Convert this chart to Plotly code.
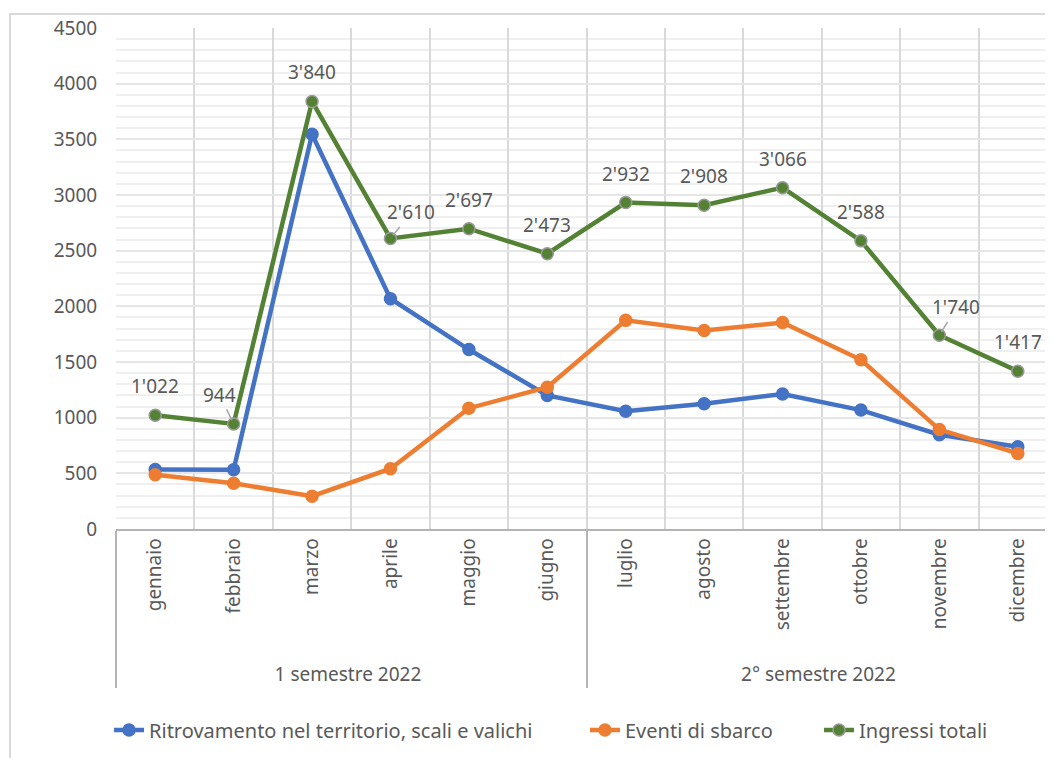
import plotly.graph_objects as go

SEMESTERS = ["1 semestre 2022"] * 6 + ["2° semestre 2022"] * 6
MONTHS = ["gennaio", "febbraio", "marzo", "aprile", "maggio", "giugno",
          "luglio", "agosto", "settembre", "ottobre", "novembre", "dicembre"]

ritrovamento = [535, 533, 3545, 2068, 1612, 1200, 1058, 1125, 1212, 1068, 847, 738]
sbarchi = [487, 411, 295, 542, 1085, 1273, 1874, 1783, 1854, 1520, 893, 679]
totali = [1022, 944, 3840, 2610, 2697, 2473, 2932, 2908, 3066, 2588, 1740, 1417]

SERIES = [
    ("Ritrovamento nel territorio, scali e valichi", ritrovamento, "#4472C4", "#4472C4"),
    ("Eventi di sbarco", sbarchi, "#ED7D31", "#ED7D31"),
    ("Ingressi totali", totali, "#548235", "#9a9a9a"),
]
LEGEND_X = [-0.0074, 0.4984, 0.7471]

# label offsets (px) for the data labels of the totals
LABEL_OFFSETS = {1: (-14, -29), 3: (21, -26), 10: (17, -28)}

TXT = "#595959"
FONT = "'Noto Sans', 'Open Sans', sans-serif"

# a little padding so the semester row sits lower, as in the original
month_ticks = ["\u00a0" * 3 + m for m in MONTHS]

fig = go.Figure()
for k, (name, vals, color, edge) in enumerate(SERIES):
    fig.add_trace(go.Scatter(
        x=[SEMESTERS, month_ticks],
        y=vals,
        name=name,
        mode="lines+markers",
        line=dict(color=color, width=4.5),
        marker=dict(color=color, size=12, line=dict(color=edge, width=1.5)),
        legend="legend" if k == 0 else f"legend{k + 1}",
    ))

for i, v in enumerate(totali):
    ax, ay = LABEL_OFFSETS.get(i, (0, -29))
    callout = i in LABEL_OFFSETS
    fig.add_annotation(
        x=i, y=v, text=f"{v:,}".replace(",", "'"),
        showarrow=True, ax=ax, ay=ay, arrowhead=0, arrowwidth=1.5,
        arrowcolor="#a6a6a6" if callout else "rgba(0,0,0,0)",
        standoff=4, startstandoff=0,
        font=dict(size=19, color=TXT, family=FONT),
    )

# outer chart border
fig.add_shape(type="rect", xref="paper", yref="paper",
              x0=-0.1126, x1=1.05, y0=-0.6, y1=1.028,
              line=dict(color="#d9d9d9", width=2), layer="below")

leg = dict(orientation="h", xanchor="left", y=-0.401, yanchor="middle",
           font=dict(size=20, color=TXT, family=FONT), bgcolor="rgba(0,0,0,0)")

fig.update_layout(
    width=1053, height=758,
    paper_bgcolor="white", plot_bgcolor="white",
    margin=dict(l=108, r=4, t=20, b=237),
    font=dict(family=FONT, color=TXT, size=19),
    showlegend=True,
    legend=dict(leg, x=LEGEND_X[0]),
    legend2=dict(leg, x=LEGEND_X[1]),
    legend3=dict(leg, x=LEGEND_X[2]),
    xaxis=dict(
        type="multicategory", range=[-0.5, 11.5],
        showgrid=True, gridcolor="#d9d9d9", gridwidth=1.5,
        showline=True, linecolor="#b4b4b4", linewidth=1.5,
        tickangle=-90, tickfont=dict(size=19, color=TXT),
        showdividers=True, dividercolor="#b4b4b4", dividerwidth=1.5,
        ticks="", zeroline=False,
    ),
    xaxis2=dict(
        overlaying="x", range=[-0.5, 11.5], tick0=0, dtick=1,
        showgrid=True, gridcolor="#f0f0f0", gridwidth=1.5,
        showticklabels=False, zeroline=False, showline=False,
    ),
    yaxis=dict(
        range=[0, 4500], dtick=500, showgrid=True, gridcolor="#e6e6e6", gridwidth=1.5,
        minor=dict(dtick=100, showgrid=True, gridcolor="#efefef", gridwidth=1.5),
        zeroline=False, showline=False,
        ticks="outside", ticklen=14, tickcolor="rgba(0,0,0,0)",
        tickfont=dict(size=19, color=TXT),
    ),
)

fig.write_html("out.html")
